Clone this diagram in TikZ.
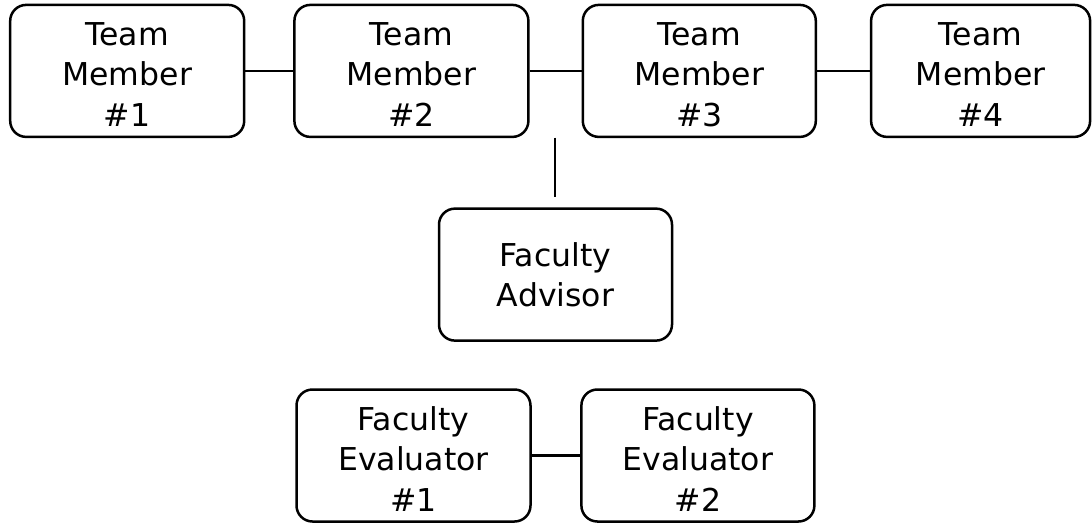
\documentclass[tikz,border=0pt]{standalone}
\usepackage{fontspec}
\setmainfont{DejaVu Sans}
\begin{document}
\begin{tikzpicture}[x=1pt,y=-1pt,
  box/.style={draw=black, line width=2.5pt, rounded corners=16pt, rectangle,
    minimum height=132pt, inner sep=0pt},
  boxtext/.style={align=center, inner sep=0pt, font=\fontsize{31.5}{40.5}\selectfont},
  low/.style={yshift=-3.5pt},
  link/.style={draw=black, line width=2.2pt}]
\useasboundingbox (0,0) rectangle (1092,523);
\node[box, minimum width=234pt, label={[boxtext,low]center:{Team\\Member\\\#1}}] (m1) at (127.2,70.9) {};
\node[box, minimum width=234pt, label={[boxtext,low]center:{Team\\Member\\\#2}}] (m2) at (411.4,70.9) {};
\node[box, minimum width=233pt, label={[boxtext,low]center:{Team\\Member\\\#3}}] (m3) at (699.3,70.9) {};
\node[box, minimum width=219pt, label={[boxtext,low]center:{Team\\Member\\\#4}}] (m4) at (980.6,70.9) {};
\node[box, minimum width=233pt, label={[boxtext]center:{Faculty\\Advisor}}] (adv) at (555.5,274.6) {};
\node[box, minimum width=234pt, label={[boxtext,low]center:{Faculty\\Evaluator\\\#1}}] (e1) at (413.5,455.5) {};
\node[box, minimum width=233pt, label={[boxtext,low]center:{Faculty\\Evaluator\\\#2}}] (e2) at (697.9,455.5) {};
\draw[link] (m1) -- (m2);
\draw[link] (m2) -- (m3);
\draw[link] (m3) -- (m4);
\draw[link] (e1) -- (e2);
\coordinate (vt) at (555.3,137.5);
\coordinate (vb) at (555.3,196.7);
\draw[link] (vt) -- (vb);
\end{tikzpicture}
\end{document}
